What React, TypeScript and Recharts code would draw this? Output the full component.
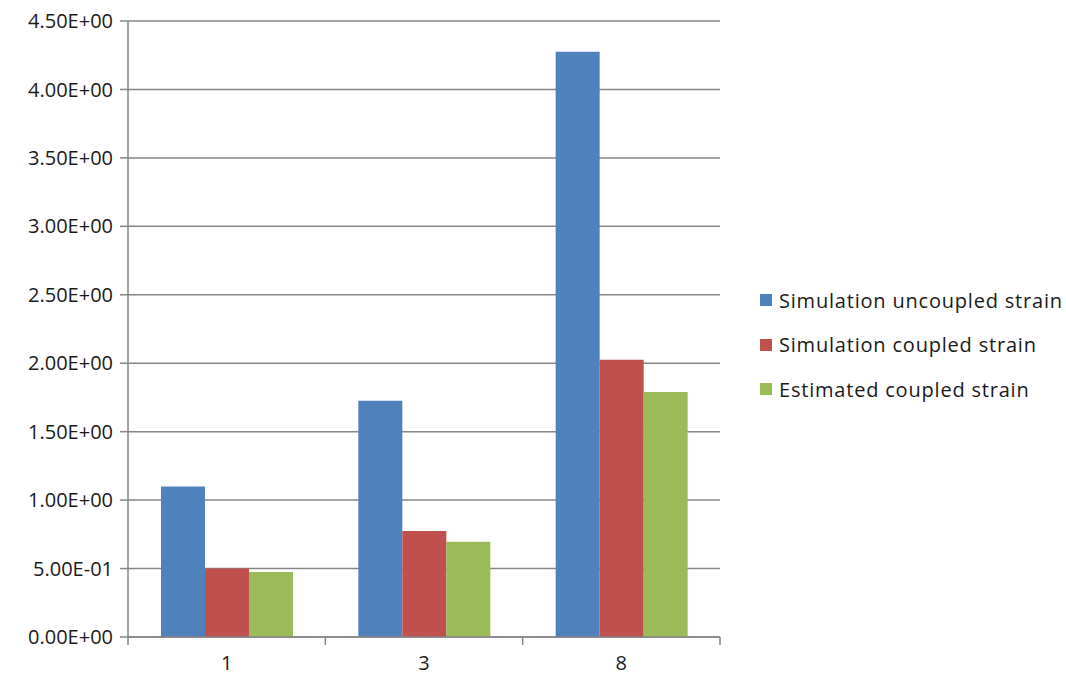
import React from 'react';
import { BarChart, Bar, XAxis, YAxis, CartesianGrid } from 'recharts';

const categories = ['1', '3', '8'];
const uncoupled = [1.1, 1.725, 4.275];
const coupled = [0.5, 0.775, 2.025];
const estimated = [0.475, 0.695, 1.79];
const yTicks = [0, 0.5, 1, 1.5, 2, 2.5, 3, 3.5, 4, 4.5];

const seriesNames = ['Simulation uncoupled strain', 'Simulation coupled strain', 'Estimated coupled strain'];
const colors = ['#4F81BD', '#C0504D', '#9BBB59'];

const data = categories.map((c, i) => ({
  name: c,
  uncoupled: uncoupled[i],
  coupled: coupled[i],
  estimated: estimated[i],
}));

const FONT = 'Open Sans, Noto Sans, sans-serif';
const AXIS = '#868686';
const TEXT = '#1a1a1a';

const sci = (v: number) => {
  const [m, e] = v.toExponential(2).split('e');
  const n = parseInt(e, 10);
  const sign = n < 0 ? '-' : '+';
  return `${m}E${sign}${String(Math.abs(n)).padStart(2, '0')}`;
};

// Excel style: tick marks sit between the categories
const CatTick = (props: any) => {
  const { x, y, payload, index } = props;
  const off = payload && payload.offset ? payload.offset : 98.7;
  const last = index === categories.length - 1;
  return (
    <g>
      <line x1={x - off} x2={x - off} y1={y - 2} y2={y + 6} stroke={AXIS} strokeWidth={1.5} />
      {last && <line x1={x + off} x2={x + off} y1={y - 2} y2={y + 6} stroke={AXIS} strokeWidth={1.5} />}
      <text x={x} y={y + 31} textAnchor="middle" fontSize={20} fontFamily={FONT} fill={TEXT}>
        {payload.value}
      </text>
    </g>
  );
};

const LegendBox = () => (
  <div style={{ position: 'absolute', left: 760, top: 278, fontFamily: FONT, fontSize: 20, letterSpacing: 0.8, color: TEXT }}>
    {seriesNames.map((s, i) => (
      <div key={s} style={{ display: 'flex', alignItems: 'center', height: 44.5 }}>
        <span style={{ width: 12, height: 12, background: colors[i], marginRight: 7, display: 'inline-block' }} />
        <span>{s}</span>
      </div>
    ))}
  </div>
);

export default function App() {
  return (
    <div style={{ position: 'absolute', left: 0, top: 0, width: 1066, height: 677, background: '#fff' }}>
      <BarChart
        width={1066}
        height={677}
        data={data}
        margin={{ top: 21, right: 346, left: 0, bottom: 0 }}
        barGap={0}
      >
        <CartesianGrid horizontal vertical={false} stroke={AXIS} strokeWidth={1.5} />
        <XAxis
          dataKey="name"
          height={40}
          stroke={AXIS}
          strokeWidth={1.5}
          tickLine={false}
          tickSize={0}
          tick={<CatTick />}
          interval={0}
        />
        <YAxis
          width={128}
          domain={[0, 4.5]}
          ticks={yTicks}
          tickFormatter={sci}
          stroke={AXIS}
          strokeWidth={1.5}
          tickSize={8}
          tickMargin={7}
          tick={{ fontSize: 20, fontFamily: FONT, fill: TEXT }}
          interval={0}
        />
        <Bar dataKey="uncoupled" name={seriesNames[0]} fill={colors[0]} barSize={44} isAnimationActive={false} />
        <Bar dataKey="coupled" name={seriesNames[1]} fill={colors[1]} barSize={44} isAnimationActive={false} />
        <Bar dataKey="estimated" name={seriesNames[2]} fill={colors[2]} barSize={44} isAnimationActive={false} />
      </BarChart>
      <LegendBox />
    </div>
  );
}
